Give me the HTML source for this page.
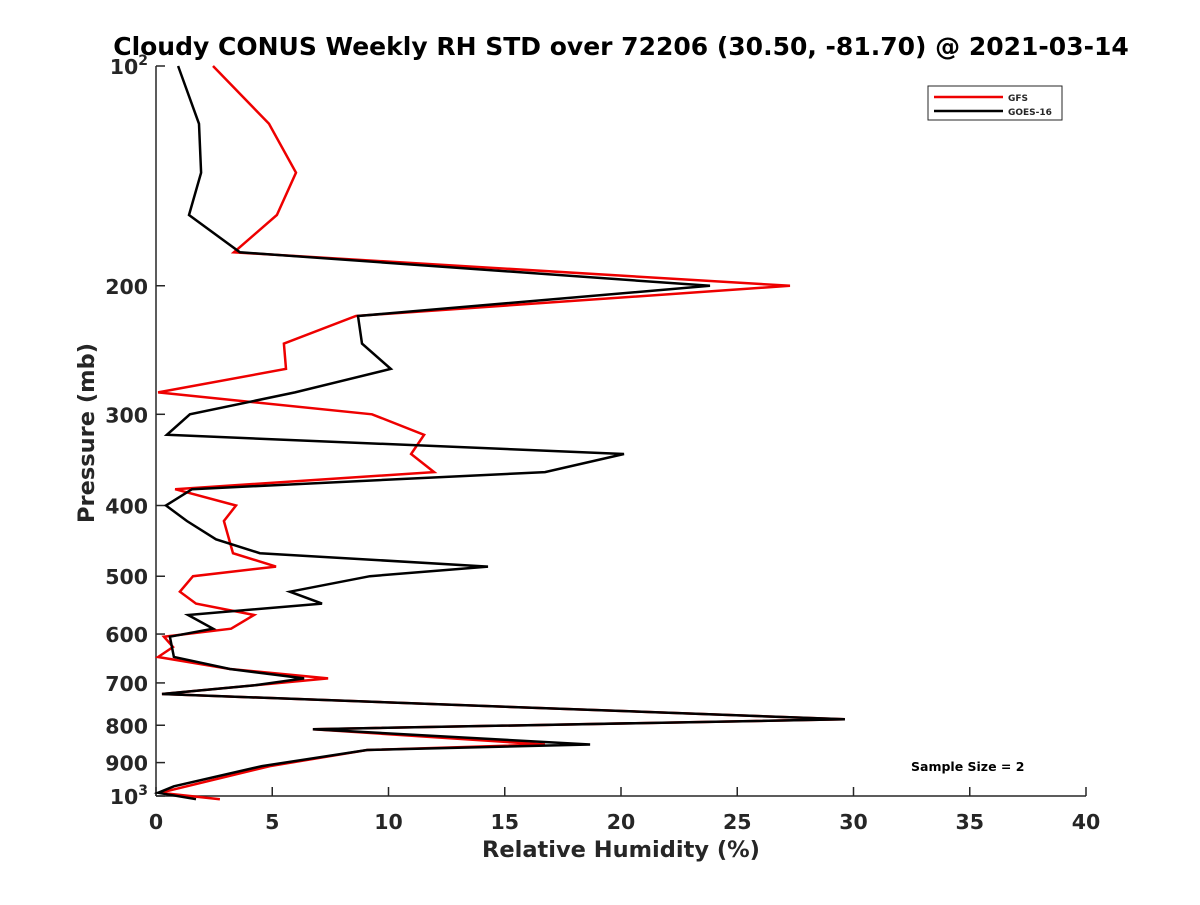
<!DOCTYPE html>
<html><head><meta charset="utf-8"><style>
body{margin:0;background:#fff}
svg text{font-family:"DejaVu Sans","Liberation Sans",sans-serif;font-weight:bold;fill:#262626}
</style></head><body>
<svg id="chart" width="1200" height="900" xmlns="http://www.w3.org/2000/svg">
<rect width="1200" height="900" fill="#fff"/>
<text x="621" y="55" text-anchor="middle" font-size="25" style="fill:#000">Cloudy CONUS Weekly RH STD over 72206 (30.50, -81.70) @ 2021-03-14</text>
<g id="axes"></g>
<g id="series"></g>
<text x="621" y="857" text-anchor="middle" font-size="22.5">Relative Humidity (%)</text>
<text x="0" y="0" text-anchor="middle" font-size="22.5" transform="translate(94,433) rotate(-90)">Pressure (mb)</text>
<g>
<rect x="928" y="86" width="134" height="34" fill="#fff" stroke="#262626" stroke-width="1"/>
<line x1="934" y1="97" x2="1003" y2="97" stroke="#e00" stroke-width="2.5"/>
<text x="1008" y="101" font-size="9">GFS</text>
<line x1="934" y1="111" x2="1003" y2="111" stroke="#000" stroke-width="2.5"/>
<text x="1008" y="115" font-size="9">GOES-16</text>
</g>
<text x="911" y="771" font-size="12.5" style="fill:#000">Sample Size = 2</text>
</svg>
<script>
const gfsPressure=[100,120,140,160,180,200,220,240,260,280,300,320,340,360,380,400,420,465,485,500,525,545,565,590,605,625,645,670,690,705,725,785,810,850,865,910,990,1010];
const gfsValues=[2.45,4.86,6.02,5.2,3.35,27.27,8.6,5.5,5.59,0.09,9.29,11.53,10.97,11.96,0.82,3.44,2.92,3.31,5.16,1.59,1.03,1.72,4.22,3.23,0.34,0.73,0.09,3.18,7.4,4.26,0.26,29.63,6.75,16.73,9.08,4.9,0.17,2.75];
const goesPressure=[100,120,140,160,180,200,220,240,260,280,300,320,340,360,380,400,420,445,465,485,500,525,545,565,590,605,645,670,690,705,725,785,810,850,865,910,970,990,1010];
const goesValues=[0.95,1.85,1.94,1.42,3.61,23.83,8.69,8.86,10.1,5.98,1.46,0.47,20.13,16.73,1.55,0.43,1.33,2.58,4.47,14.28,9.2,5.76,7.14,1.38,2.45,0.6,0.77,3.18,6.37,4.26,0.26,29.63,6.75,18.67,9.08,4.56,0.77,0.09,1.72];
const xTicks=[0,5,10,15,20,25,30,35,40];
const yTicks=[200,300,400,500,600,700,800,900];
const NS='http://www.w3.org/2000/svg';
const X0=156,X1=1086,Y0=66,Y1=796;
const xs=v=>X0+(v/40)*(X1-X0);
const ys=p=>Y0+Math.log10(p/100)*(Y1-Y0);
function mk(t,a){const e=document.createElementNS(NS,t);for(const k in a)e.setAttribute(k,a[k]);return e;}
const ax=document.getElementById('axes');
let l=mk('line',{x1:X0,y1:Y0,x2:X0,y2:Y1,stroke:'#262626','stroke-width':1.5});


ax.appendChild(l);
l=mk('line',{x1:X0,y1:Y1,x2:X1,y2:Y1,stroke:'#262626','stroke-width':1.5});


ax.appendChild(l);
xTicks.forEach(v=>{
 const t=mk('line',{x1:xs(v),y1:Y1,x2:xs(v),y2:Y1-9,stroke:'#262626','stroke-width':1.5});
 
 
 ax.appendChild(t);
 const tx=mk('text',{x:xs(v),y:Y1+33,'text-anchor':'middle','font-size':20.5});
 
 
 tx.textContent=v;ax.appendChild(tx);
});
[100].concat(yTicks,[1000]).forEach(p=>{
 const t=mk('line',{x1:X0,y1:ys(p),x2:X0+9,y2:ys(p),stroke:'#262626','stroke-width':1.5});
 
 
 ax.appendChild(t);
});
yTicks.forEach(p=>{
 const tx=mk('text',{x:X0-8,y:ys(p)+8,'text-anchor':'end','font-size':20.5});
 
 
 tx.textContent=p;ax.appendChild(tx);
});
[[100,'2'],[1000,'3']].forEach(([p,e])=>{
 const tx=mk('text',{x:X0-8,y:ys(p)+8,'text-anchor':'end','font-size':20.5});
 
 
 tx.innerHTML='10<tspan dy="-9" font-size="14">'+e+'</tspan>';
 ax.appendChild(tx);
});
const sg=document.getElementById('series');
function line(ps,vs,col,name){
 const pts=ps.map((p,i)=>xs(vs[i]).toFixed(1)+','+ys(p).toFixed(1)).join(' ');
 const pl=mk('polyline',{points:pts,fill:'none',stroke:col,'stroke-width':2.5,'stroke-linejoin':'miter'});
 
 
 sg.appendChild(pl);
}
line(gfsPressure,gfsValues,'#e00','gfs-line');
line(goesPressure,goesValues,'#000','goes16-line');
</script>
</body></html>
